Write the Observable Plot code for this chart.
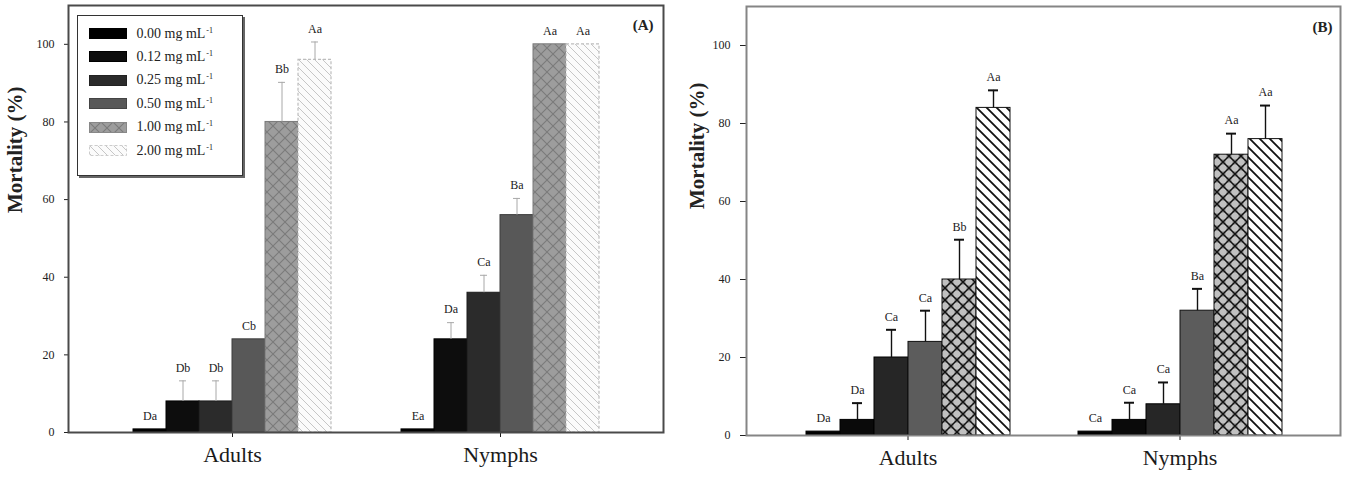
<!DOCTYPE html>
<html>
<head>
<meta charset="utf-8">
<script src="https://cdn.jsdelivr.net/npm/d3@7"></script>
<script src="https://cdn.jsdelivr.net/npm/@observablehq/plot@0.6"></script>
<style>
  html, body { margin: 0; padding: 0; background: #fff; }
  body { width: 1347px; height: 478px; overflow: hidden; font-family: "Liberation Serif", "DejaVu Serif", serif; }
  #wrap { position: relative; width: 1347px; height: 478px; }
  .panel { position: absolute; top: 0; height: 478px; }
  .panel > svg { position: absolute; left: 0; top: 0; max-width: none; }
  .panel svg text { font-family: "Liberation Serif", serif; }
  #panelA { left: 0; width: 670px; }
  #panelB { left: 670px; width: 677px; }
  #legend { position: absolute; left: 77px; top: 15px; width: 164px; height: 159px;
            border: 1.5px solid #333; box-shadow: 2px 2px 0 #666; background: #fff; }
  .row { position: absolute; left: 10.5px; height: 12px; display: flex; align-items: center;
         font-size: 14px; color: #222; white-space: nowrap; }
  .row svg { margin-right: 10px; flex: none; }
  .row sup { font-size: 8px; vertical-align: 5px; margin-left: 1px; }
</style>
</head>
<body>
<svg width="0" height="0" style="position:absolute">
  <defs>
    <pattern id="patA1" patternUnits="userSpaceOnUse" width="12" height="12">
      <rect width="12" height="12" fill="#9d9d9d"></rect>
      <path d="M0,0L12,12M12,0L0,12" stroke="#7a7a7a" stroke-width="1.1" fill="none"></path>
    </pattern>
    <pattern id="patA2" patternUnits="userSpaceOnUse" width="8" height="8">
      <rect width="8" height="8" fill="#fbfbfb"></rect>
      <path d="M0,0L8,8M-1,7L1,9M7,-1L9,1" stroke="#c6c6c6" stroke-width="1" fill="none"></path>
    </pattern>
    <pattern id="patB1" patternUnits="userSpaceOnUse" width="12" height="12">
      <rect width="12" height="12" fill="#8a8a8a"></rect>
      <circle cx="6" cy="0" r="3.6" fill="#c0c0c0"></circle>
      <circle cx="0" cy="6" r="3.6" fill="#c0c0c0"></circle>
      <circle cx="12" cy="6" r="3.6" fill="#c0c0c0"></circle>
      <circle cx="6" cy="12" r="3.6" fill="#c0c0c0"></circle>
      <path d="M0,0L12,12M12,0L0,12" stroke="#111" stroke-width="1.4" fill="none"></path>
    </pattern>
    <pattern id="patB2" patternUnits="userSpaceOnUse" width="10" height="10">
      <rect width="10" height="10" fill="#fff"></rect>
      <path d="M0,0L10,10M-1,9L1,11M9,-1L11,1" stroke="#111" stroke-width="1.8" fill="none"></path>
    </pattern>
  </defs>
</svg>
<div id="wrap">
  <div id="panelA" class="panel"></div>
  <div id="panelB" class="panel"></div>
  <div id="legend"></div>
</div>
<script>
// ---------- data ----------
const groups = ["Adults", "Nymphs"];
const concentrations = ["0.00", "0.12", "0.25", "0.50", "1.00", "2.00"];
const yTicks = [0, 20, 40, 60, 80, 100];

// Panel (A)
const adultsA = [0.8, 8, 8, 24, 80, 96];
const adultsErrA = [0, 5.3, 5.3, 0, 10.2, 4.6];
const adultsLettersA = ["Da", "Db", "Db", "Cb", "Bb", "Aa"];
const nymphsA = [0.8, 24, 36, 56, 100, 100];
const nymphsErrA = [0, 4.3, 4.5, 4.3, 0, 0];
const nymphsLettersA = ["Ea", "Da", "Ca", "Ba", "Aa", "Aa"];

// Panel (B)
const adultsB = [1, 4, 20, 24, 40, 84];
const adultsErrB = [0, 4.3, 7.1, 8, 10.2, 4.5];
const adultsLettersB = ["Da", "Da", "Ca", "Ca", "Bb", "Aa"];
const nymphsB = [1, 4, 8, 32, 72, 76];
const nymphsErrB = [0, 4.4, 5.6, 5.6, 5.4, 8.6];
const nymphsLettersB = ["Ca", "Ca", "Ca", "Ba", "Aa", "Aa"];

// ---------- build tables ----------
function table(series) {
  return series.flatMap(([group, values, errs, letters]) =>
    concentrations.map((conc, i) => ({group, conc, value: values[i], err: errs[i], letter: letters[i]})));
}
const rowsA = table([["Adults", adultsA, adultsErrA, adultsLettersA], ["Nymphs", nymphsA, nymphsErrA, nymphsLettersA]]);
const rowsB = table([["Adults", adultsB, adultsErrB, adultsLettersB], ["Nymphs", nymphsB, nymphsErrB, nymphsLettersB]]);

// ---------- styles ----------
const SERIF = "Liberation Serif";
const fillsA = ["#000000", "#0d0d0d", "#2b2b2b", "#585858", "url(#patA1)", "url(#patA2)"];
const strokesA = ["#000000", "#000000", "#1c1c1c", "#3c3c3c", "#7a7a7a", "none"];
const fillsB = ["#000000", "#0a0a0a", "#262626", "#5c5c5c", "url(#patB1)", "url(#patB2)"];
const strokesB = ["#000", "#000", "#000", "#111", "#111", "#111"];

function bars(rows, o) {
  const idx = d => concentrations.indexOf(d.conc);
  const withErr = rows.filter(d => d.err > 0);
  const top = d => d.value + d.err;
  const marks = [
    Plot.barY(rows, {fx: "group", x: "conc", y: "value", fill: d => o.fills[idx(d)], stroke: d => o.strokes[idx(d)], strokeWidth: o.barStroke}),
  ];
  if (o.dashedLast) {
    marks.push(Plot.barY(rows.filter(d => d.conc === "2.00"), {fx: "group", x: "conc", y: "value", fill: "none", stroke: "#bdbdbd", strokeWidth: 1.2, strokeDasharray: "3,2"}));
  }
  marks.push(
    Plot.ruleX(withErr, {fx: "group", x: "conc", y1: "value", y2: top, stroke: o.errColor, strokeWidth: o.errWidth}),
    Plot.tickY(withErr, {fx: "group", x: "conc", y: top, stroke: o.errColor, strokeWidth: o.capWidth, insetLeft: o.capInset, insetRight: o.capInset}),
    Plot.text(rows, {fx: "group", x: "conc", y: top, text: "letter", dy: -13, lineAnchor: "middle", fontSize: 12, fontFamily: SERIF, fill: "#222"}),
    Plot.axisFx({anchor: "bottom", tickSize: 5, tickPadding: 9, fontSize: 22, fontFamily: SERIF, label: null, color: "#1a1a1a"})
  );
  return Plot.plot({
    width: o.width, height: 478,
    marginLeft: o.ml, marginRight: o.mr, marginTop: o.mt, marginBottom: o.mb,
    style: {fontFamily: "'Liberation Serif', serif", background: "transparent", color: "#222", overflow: "visible"},
    fx: {domain: groups, paddingInner: o.pi, paddingOuter: o.po, label: null},
    x: {domain: concentrations, padding: 0, axis: null},
    y: {domain: [0, 110], axis: null},
    color: {type: "identity"},
    marks
  });
}

function axes(o) {
  return Plot.plot({
    width: o.width, height: 478,
    marginLeft: o.ml, marginRight: o.mr, marginTop: o.mt, marginBottom: o.mb,
    style: {fontFamily: "'Liberation Serif', serif", background: "transparent", color: "#222", overflow: "visible"},
    y: {domain: [0, 110], axis: null},
    marks: [
      Plot.axisY({ticks: yTicks, tickSize: o.tickSize, tickPadding: 10, label: null, fontSize: 12, fontFamily: SERIF}),
      Plot.frame({stroke: o.frameColor, strokeWidth: 2}),
      Plot.text(["Mortality (%)"], {frameAnchor: "left", rotate: -90, dx: o.ylabDx, dy: o.ylabDy, fontSize: 21, fontWeight: "bold", fontFamily: SERIF, fill: "#222"}),
      Plot.text([o.tag], {frameAnchor: "top-right", dx: o.tagDx, dy: o.tagDy, lineAnchor: "middle", fontSize: 15, fontWeight: "bold", fontFamily: SERIF, fill: "#222"})
    ]
  });
}

const optA = {
  width: 670, ml: 68, mr: 7, mt: 5, mb: 46, pi: 0.248, po: 0.23,
  fills: fillsA, strokes: strokesA, barStroke: 1, dashedLast: true,
  errColor: "#a8a8a8", errWidth: 1, capWidth: 1, capInset: 13,
  tickSize: 4, frameColor: "#4a4a4a",
  ylabDx: -53, ylabDy: -6, tag: "(A)", tagDx: -10, tagDy: 20
};
const optB = {
  width: 677, ml: 76, mr: 7, mt: 6, mb: 43, pi: 0.247, po: 0.215,
  fills: fillsB, strokes: strokesB, barStroke: 1, dashedLast: false,
  errColor: "#111", errWidth: 1.4, capWidth: 2, capInset: 12,
  tickSize: 6, frameColor: "#858585",
  ylabDx: -49, ylabDy: -12, tag: "(B)", tagDx: -8, tagDy: 21
};

const pA = document.getElementById("panelA");
pA.appendChild(bars(rowsA, optA));
pA.appendChild(axes(optA));
const pB = document.getElementById("panelB");
pB.appendChild(bars(rowsB, optB));
pB.appendChild(axes(optB));

// ---------- legend (panel A) ----------
const legendFills = fillsA;
const legendStrokes = ["#000", "#000", "#222", "#444", "#888", "#ccc"];
const legend = document.getElementById("legend");
concentrations.forEach((c, i) => {
  const row = document.createElement("div");
  row.className = "row";
  row.style.top = (17.5 + i * 23.4 - 6) + "px";
  row.innerHTML = `<svg width="38" height="11"><rect x="0.5" y="0.5" width="37" height="10" fill="${legendFills[i]}" stroke="${legendStrokes[i]}" ${i === 5 ? 'stroke-dasharray="3,2"' : ''}></rect></svg><span>${c} mg mL<sup>-1</sup></span>`;
  legend.appendChild(row);
});
</script>
</body>
</html>
